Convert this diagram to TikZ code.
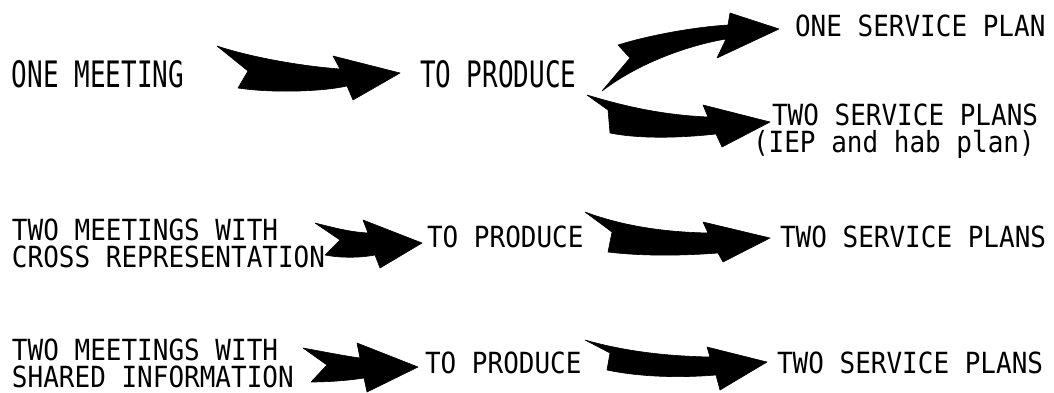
\documentclass[tikz,border=0pt]{standalone}
\usepackage{fontspec}
\usepackage{graphicx}
\setmainfont{DejaVu Sans Mono}
\newcommand\tallA[1]{\scalebox{1}[1.40]{#1}}
\newcommand\tallB[1]{\scalebox{1}[1.12]{#1}}
\tikzset{
  lbl/.style={anchor=base west, inner sep=0pt, outer sep=0pt, font=\fontsize{26}{28}\selectfont},
  swooshfill/.style={fill=black, draw=black, line width=0.6pt, line join=round}
}
\begin{document}
\begin{tikzpicture}[x=1pt,y=-1pt]
\useasboundingbox[fill=white] (0,0) rectangle (1054,393);

% ---------- row 1 ----------
\node[lbl] (m1) at (12,88) {\tallA{ONE MEETING}};
\node[lbl] (p1) at (420,88) {\tallA{TO PRODUCE}};
\node[lbl] (s1) at (795,37) {\tallB{ONE SERVICE PLAN}};
\node[lbl] (s2) at (772,125) {\tallB{TWO SERVICE PLANS}};
\node[lbl] (s2b) at (753,153) {\tallB{(IEP and hab plan)}};

% arrow ONE MEETING -> TO PRODUCE
\fill[swooshfill] (217,46) .. controls (250,57) and (300,66) .. (340,69)
  -- (333,56) -- (400,73) -- (353,100) -- (347,86)
  .. controls (320,92) and (270,93) .. (238,88) -- (248,71) -- cycle;

% arrow TO PRODUCE -> ONE SERVICE PLAN (curving up)
\fill[swooshfill] (618,45) .. controls (650,35) and (695,27) .. (728,25)
  -- (730,13) -- (779,29) -- (717,58) -- (726,39)
  .. controls (690,45) and (640,62) .. (602,91) -- (630,58) -- cycle;

% arrow TO PRODUCE -> TWO SERVICE PLANS (curving down)
\fill[swooshfill] (587,95) .. controls (620,105) and (660,115) .. (708,117)
  -- (703,105) -- (770,122) -- (722,147) -- (716,134)
  .. controls (680,138) and (640,139) .. (610,133) -- (608,110) -- cycle;

% ---------- row 2 ----------
\node[lbl] (m2a) at (12,240) {\tallB{TWO MEETINGS WITH}};
\node[lbl] (m2b) at (12,267) {\tallB{CROSS REPRESENTATION}};
\node[lbl] (p2) at (427,247) {\tallB{TO PRODUCE}};
\node[lbl] (s3) at (780,247) {\tallB{TWO SERVICE PLANS}};

\fill[swooshfill] (315,223) .. controls (335,228) and (350,232) .. (368,233)
  -- (363,220) -- (422,243) -- (380,268) -- (375,255)
  .. controls (360,258) and (340,258) .. (325,255) -- (340,240) -- cycle;

\fill[swooshfill] (585,212) .. controls (620,225) and (660,232) .. (708,233)
  -- (703,222) -- (770,238) -- (723,262) -- (718,253)
  .. controls (680,256) and (640,256) .. (608,252) -- (612,232) -- cycle;

% ---------- row 3 ----------
\node[lbl] (m3a) at (12,360) {\tallB{TWO MEETINGS WITH}};
\node[lbl] (m3b) at (12,387) {\tallB{SHARED INFORMATION}};
\node[lbl] (p3) at (425,373) {\tallB{TO PRODUCE}};
\node[lbl] (s4) at (777,373) {\tallB{TWO SERVICE PLANS}};

\fill[swooshfill] (303,348) .. controls (325,352) and (345,356) .. (360,358)
  -- (357,343) -- (418,367) -- (367,392) -- (364,378)
  .. controls (345,381) and (325,382) .. (311,382) -- (327,365) -- cycle;

\fill[swooshfill] (585,340) .. controls (620,350) and (660,356) .. (710,357)
  -- (707,347) -- (767,362) -- (720,390) -- (716,375)
  .. controls (680,378) and (640,377) .. (607,370) -- (610,353) -- cycle;
\end{tikzpicture}
\end{document}
